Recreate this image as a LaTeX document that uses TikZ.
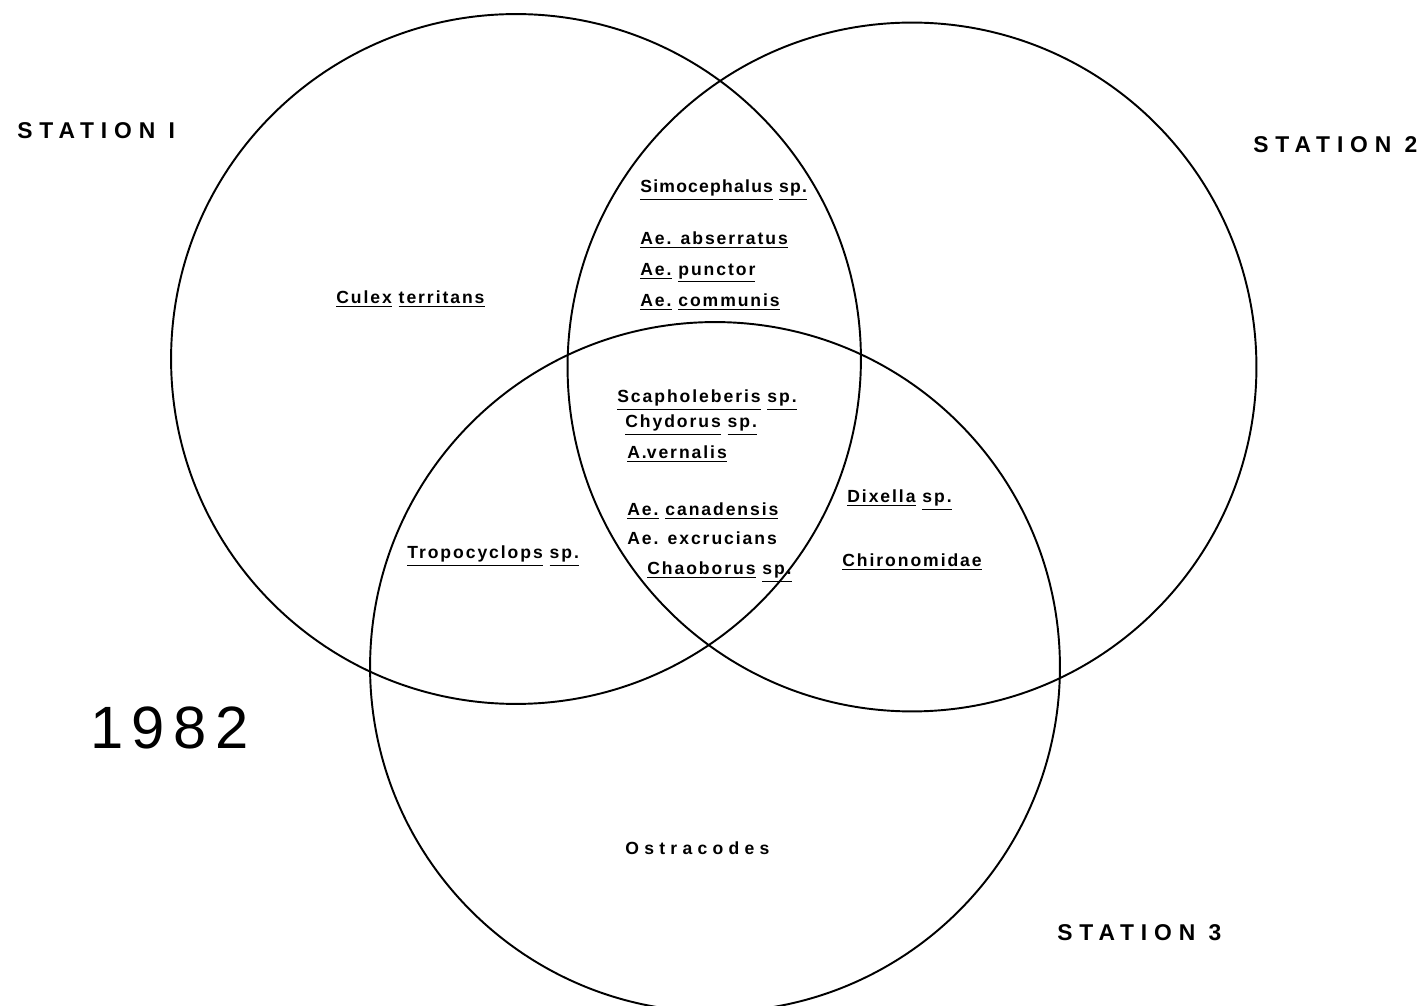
\documentclass[tikz,border=0pt]{standalone}
\usepackage{fontspec}
\setmainfont{Liberation Sans}
\newfontfamily\taxonfont[LetterSpace=11]{Liberation Sans}
\newfontfamily\stationfont[LetterSpace=30]{Liberation Sans}
\newfontfamily\yearfont[LetterSpace=14]{Liberation Sans}
\newcommand{\uw}[1]{\underline{#1}}
\tikzset{
  ring/.style={draw, line width=1.1pt},
  taxon/.style={anchor=west, inner sep=0pt,
                font=\taxonfont\bfseries\fontsize{10}{12}\selectfont},
  station/.style={anchor=west, inner sep=0pt,
                font=\stationfont\bfseries\fontsize{13}{15}\selectfont},
}

\begin{document}
\begin{tikzpicture}[x=0.02cm, y=-0.02cm]
  \useasboundingbox (0,0) rectangle (1428,1006);

  %% the three stations
  \draw[ring] (516,359) circle[radius=6.9cm];
  \draw[ring] (912,367) circle[radius=6.89cm];
  \draw[ring] (715,667) circle[radius=6.9cm];

  \node[station] (st1) at (17,131) {STATION I};
  \node[station] (st2) at (1253,145) {STATION 2};
  \node[station] (st3) at (1057,933) {STATION 3};
  \node[anchor=west, inner sep=0pt, font=\yearfont\fontsize{34}{40}\selectfont]
    (year) at (90,728) {1982};

  %% station 1 only
  \node[taxon] (culex) at (336,299) {\uw{Culex} \uw{territans}};

  %% stations 1 and 2
  \node[taxon] (simo) at (640,190) {\addfontfeature{LetterSpace=7}\uw{Simocephalus} \uw{sp.}};
  \node[taxon] (abser) at (640,240) {\uw{Ae. abserratus}};
  \node[taxon] (punct) at (640,273) {\uw{Ae.} \uw{punctor}};
  \node[taxon] (commu) at (640,302) {\uw{Ae.} \uw{communis}};

  %% all three
  \node[taxon] (scaph) at (617,400) {\uw{Scapholeberis} \uw{sp.}};
  \node[taxon] (chyd) at (625,425) {\uw{Chydorus} \uw{sp.}};
  \node[taxon] (vern) at (627,454) {\uw{A.}\uw{vernalis}};
  \node[taxon] (canad) at (627,511) {\uw{Ae.} \uw{canadensis}};
  \node[taxon] (excru) at (627,538) {Ae. excrucians};
  \node[taxon] (chao) at (647,572) {\uw{Chaoborus} \uw{sp.}};

  %% stations 1 and 3
  \node[taxon] (tropo) at (407,556) {\uw{Tropocyclops} \uw{sp.}};

  %% stations 2 and 3
  \node[taxon] (dix) at (847,500) {\uw{Dixella} \uw{sp.}};
  \node[taxon] (chir) at (842,562) {\uw{Chironomidae}};

  %% station 3 only
  \node[taxon] (ostra) at (625,848) {\addfontfeature{LetterSpace=30}Ostracodes};
\end{tikzpicture}
\end{document}
